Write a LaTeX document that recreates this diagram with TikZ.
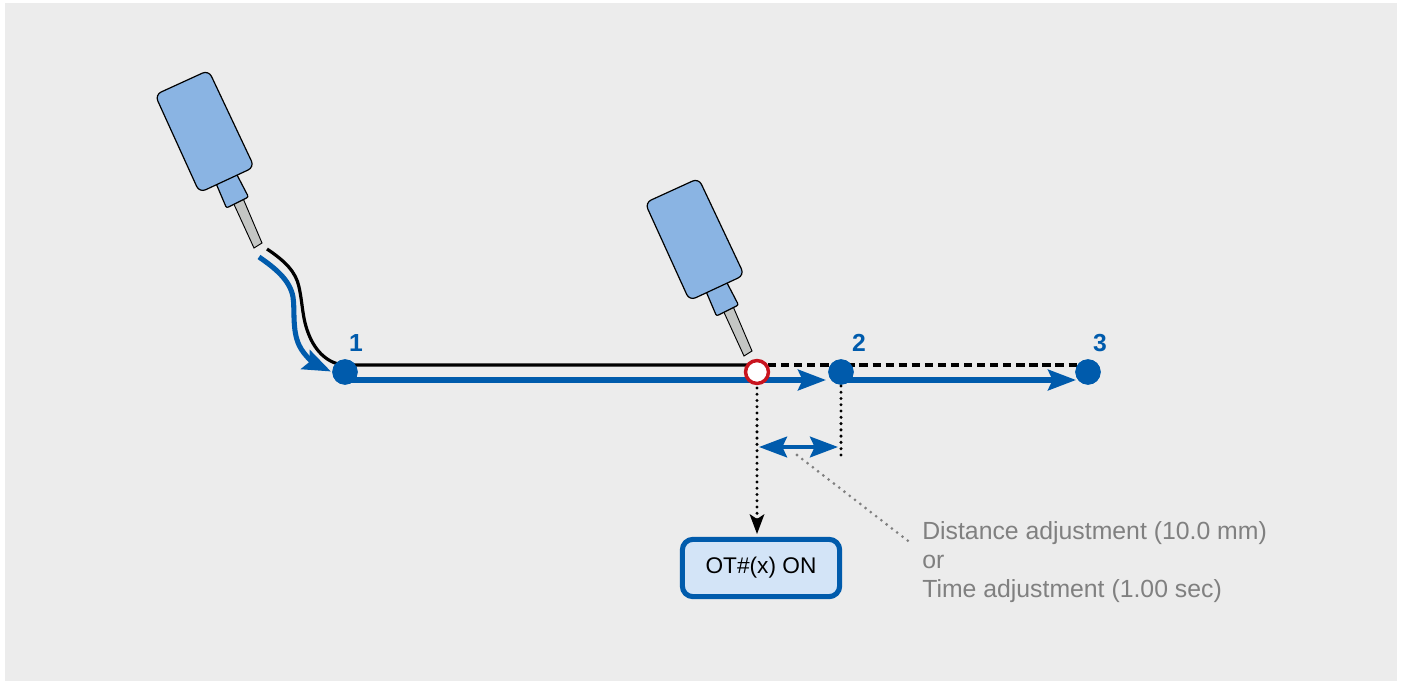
\documentclass[tikz,border=0pt]{standalone}
\usepackage{fontspec}
\setmainfont{Liberation Sans}
\usetikzlibrary{arrows.meta}
\definecolor{bgc}{HTML}{ECECEC}
\definecolor{bluec}{HTML}{005BAC}
\definecolor{sensc}{HTML}{8AB4E3}
\definecolor{probec}{HTML}{C4C6C4}
\definecolor{boxc}{HTML}{D3E4F7}
\definecolor{grayt}{HTML}{808080}
\tikzset{
  x=0.75pt,y=-0.75pt,
  bluehead/.style={-{Stealth[length=21pt,width=15.5pt,inset=3.5pt]}},
  bluedouble/.style={{Stealth[length=21pt,width=15.5pt,inset=3.5pt]}-{Stealth[length=21pt,width=15.5pt,inset=3.5pt]}},
  blueline/.style={draw=bluec,line width=3.8pt},
  blackline/.style={draw=black,line width=2.4pt},
  dashline/.style={draw=black,line width=2.4pt,dash pattern=on 6.2pt off 3.6pt},
  dotline/.style={draw=black,line width=2.5pt,line cap=round,dash pattern=on 0pt off 4.7pt},
  graydot/.style={draw=grayt,line width=2.3pt,line cap=round,dash pattern=on 0pt off 5pt},
  point/.style={circle,fill=bluec,minimum size=19pt,inner sep=0pt},
  num/.style={text=bluec,font=\fontsize{18.5}{20}\selectfont\bfseries,inner sep=0pt},
  gtext/.style={text=grayt,font=\fontsize{18.6}{22}\selectfont,inner sep=0pt,anchor=west},
  sbody/.style={fill=sensc,draw=black,line width=0.9pt,rounded corners=5pt},
  sneck/.style={fill=sensc,draw=black,line width=0.9pt,rounded corners=1.5pt},
  sprobe/.style={fill=probec,draw=black,line width=0.7pt},
  pics/sensor/.style={code={
    \path[sprobe] (232,200) -- (242,196) -- (262,243) -- (254,248) -- cycle;
    \path[sneck] (215,181) -- (235,171) -- (248.5,197) -- (226.5,208) -- cycle;
    \path[sbody] (155,94.8) -- (208.6,70.3) -- (254.3,167.1) -- (199.5,192.6) -- cycle;
  }}
}
\begin{document}
\begin{tikzpicture}
\useasboundingbox (0,0) rectangle (1403,681);
\fill[white] (0,0) rectangle (1403,681);
\fill[bgc] (5,3) rectangle (1397,681);
% sensors
\pic (sa) at (0,0) {sensor};
\pic (sb) at (490,108) {sensor};
% points
\node[point] (p1) at (345,372) {};
\node[point] (p2) at (841,372) {};
\node[point] (p3) at (1088,372) {};
\node[circle,minimum size=18pt,inner sep=0pt] (pr) at (757,372) {};
\coordinate (curveK) at (267,249);
\coordinate (curveB) at (259,257);
\coordinate (kr1) at (345,365);
\coordinate (kr2) at (757,365);
\coordinate (kr3) at (1088,365);
\coordinate (br1) at (345,380);
\coordinate (br2) at (757,380);
\coordinate (br2e) at (826,380);
\coordinate (br3) at (841,380);
\coordinate (br3e) at (1076,380);
\coordinate (d1) at (757,380);
\coordinate (d1e) at (757,534);
\coordinate (d2) at (841,386);
\coordinate (d2e) at (841,456);
\coordinate (ar1) at (759,447);
\coordinate (ar2) at (838,447);
\coordinate (gd1) at (797,455);
\coordinate (gd2) at (912,544);
% black track
\draw[blackline] (curveK) .. controls (285,261) and (296,272) .. (299,287)
  .. controls (303,305) and (302,318) .. (309,335)
  .. controls (315,350) and (327,364) .. (kr1) -- (kr2);
\draw[dashline] (768,365) -- (kr3);
% blue track
\draw[blueline,bluehead] (curveB) .. controls (275,268) and (290,280) .. (293,297)
  .. controls (295,310) and (292,330) .. (299,345)
  .. controls (304,356) and (316,364.5) .. (331,371.5);
\draw[blueline] (br1) -- (br2);
\draw[blueline,bluehead] (br2) -- (br2e);
\draw[blueline,bluehead] (br3) -- (br3e);
\node[point] at (p1) {};
\node[point] at (p2) {};
\node[point] at (p3) {};
% red marker
\draw[draw={rgb,255:red,200;green,20;blue,30},fill=white,line width=2.6pt] (pr) circle (8.6pt);
% dotted
\draw[dotline] (757,388) -- (757,520);
\fill[black] (d1e) -- (749.5,514) -- (757,519) -- (764.5,514) -- cycle;
\draw[dotline] (d2) -- (d2e);
\draw[blueline,line width=3pt,bluedouble] (ar1) -- (ar2);
\draw[graydot] (gd1) -- (gd2);
% box
\node[draw=bluec,fill=boxc,line width=3.8pt,rounded corners=8pt,minimum width=118pt,minimum height=43pt,inner sep=0pt,font=\fontsize{17}{18}\selectfont] (ot) at (761,568) {OT\#(x) ON};
% labels
\node[num] (l1) at (356,343) {1};
\node[num] (l2) at (859,343) {2};
\node[num] (l3) at (1100,343) {3};
\node[gtext] (t1) at (922,533) {Distance adjustment (10.0 mm)};
\node[gtext] (t2) at (922,562) {or};
\node[gtext] (t3) at (922,591) {Time adjustment (1.00 sec)};
\end{tikzpicture}
\end{document}
